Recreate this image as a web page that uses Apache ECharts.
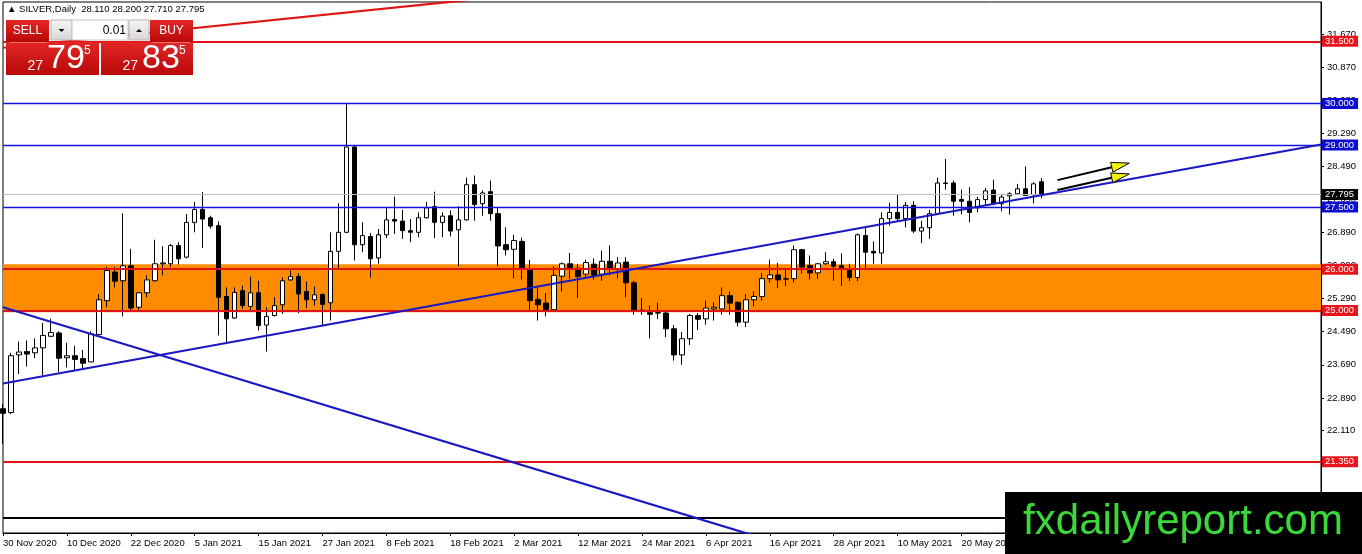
<!DOCTYPE html>
<html>
<head>
<meta charset="utf-8">
<title>SILVER,Daily</title>
<script src="https://cdn.jsdelivr.net/npm/echarts@6.0.0/dist/echarts.min.js"></script>
<style>
html, body { margin: 0; padding: 0; background: #fff; }
#chart { width: 1362px; height: 554px; }
</style>
</head>
<body>
<div id="chart"></div>
<script>
'use strict';

// trading days shown on the chart
var dates = [
    '30 Nov 2020', '1 Dec 2020', '2 Dec 2020', '3 Dec 2020', '4 Dec 2020', '7 Dec 2020', '8 Dec 2020', '9 Dec 2020',
    '10 Dec 2020', '11 Dec 2020', '14 Dec 2020', '15 Dec 2020', '16 Dec 2020', '17 Dec 2020', '18 Dec 2020', '21 Dec 2020',
    '22 Dec 2020', '23 Dec 2020', '24 Dec 2020', '28 Dec 2020', '29 Dec 2020', '30 Dec 2020', '31 Dec 2020', '4 Jan 2021',
    '5 Jan 2021', '6 Jan 2021', '7 Jan 2021', '8 Jan 2021', '11 Jan 2021', '12 Jan 2021', '13 Jan 2021', '14 Jan 2021',
    '15 Jan 2021', '18 Jan 2021', '19 Jan 2021', '20 Jan 2021', '21 Jan 2021', '22 Jan 2021', '25 Jan 2021', '26 Jan 2021',
    '27 Jan 2021', '28 Jan 2021', '29 Jan 2021', '1 Feb 2021', '2 Feb 2021', '3 Feb 2021', '4 Feb 2021', '5 Feb 2021',
    '8 Feb 2021', '9 Feb 2021', '10 Feb 2021', '11 Feb 2021', '12 Feb 2021', '15 Feb 2021', '16 Feb 2021', '17 Feb 2021',
    '18 Feb 2021', '19 Feb 2021', '22 Feb 2021', '23 Feb 2021', '24 Feb 2021', '25 Feb 2021', '26 Feb 2021', '1 Mar 2021',
    '2 Mar 2021', '3 Mar 2021', '4 Mar 2021', '5 Mar 2021', '8 Mar 2021', '9 Mar 2021', '10 Mar 2021', '11 Mar 2021',
    '12 Mar 2021', '15 Mar 2021', '16 Mar 2021', '17 Mar 2021', '18 Mar 2021', '19 Mar 2021', '22 Mar 2021', '23 Mar 2021',
    '24 Mar 2021', '25 Mar 2021', '26 Mar 2021', '29 Mar 2021', '30 Mar 2021', '31 Mar 2021', '1 Apr 2021', '5 Apr 2021',
    '6 Apr 2021', '7 Apr 2021', '8 Apr 2021', '9 Apr 2021', '12 Apr 2021', '13 Apr 2021', '14 Apr 2021', '15 Apr 2021',
    '16 Apr 2021', '19 Apr 2021', '20 Apr 2021', '21 Apr 2021', '22 Apr 2021', '23 Apr 2021', '26 Apr 2021', '27 Apr 2021',
    '28 Apr 2021', '29 Apr 2021', '30 Apr 2021', '3 May 2021', '4 May 2021', '5 May 2021', '6 May 2021', '7 May 2021',
    '10 May 2021', '11 May 2021', '12 May 2021', '13 May 2021', '14 May 2021', '17 May 2021', '18 May 2021', '19 May 2021',
    '20 May 2021', '21 May 2021', '24 May 2021', '25 May 2021', '26 May 2021', '27 May 2021', '28 May 2021', '31 May 2021',
    '1 Jun 2021', '2 Jun 2021', '3 Jun 2021'
];

// [open, close, low, high]
var ohlc = [
    [22.63, 22.52, 21.78, 22.75], [22.54, 23.91, 22.50, 23.98], [23.93, 24.00, 23.47, 24.25], [24.01, 23.95, 23.65, 24.28],
    [23.98, 24.10, 23.85, 24.33], [24.10, 24.40, 23.43, 24.70], [24.38, 24.47, 24.36, 24.80], [24.46, 23.85, 23.51, 24.50],
    [23.86, 23.91, 23.63, 24.22], [23.91, 23.82, 23.55, 24.15], [23.84, 23.73, 23.59, 24.05], [23.76, 24.44, 23.76, 24.50],
    [24.42, 25.26, 24.42, 25.40], [25.24, 25.97, 25.08, 26.06], [25.93, 25.71, 25.56, 26.05], [25.72, 26.08, 24.86, 27.35],
    [26.08, 25.06, 25.00, 26.49], [25.08, 25.43, 25.02, 25.45], [25.43, 25.74, 25.32, 25.85], [25.72, 26.13, 25.70, 26.71],
    [26.13, 26.15, 25.85, 26.55], [26.13, 26.57, 26.05, 26.61], [26.57, 26.25, 26.11, 26.65], [26.29, 27.13, 26.26, 27.33],
    [27.13, 27.44, 26.89, 27.62], [27.44, 27.21, 26.51, 27.86], [27.24, 27.04, 26.98, 27.29], [27.05, 25.32, 24.40, 27.15],
    [25.34, 24.80, 24.23, 25.56], [24.82, 25.44, 24.80, 25.56], [25.48, 25.12, 25.04, 25.60], [25.10, 25.43, 25.00, 25.82],
    [25.43, 24.64, 24.52, 25.72], [24.65, 24.86, 24.01, 25.08], [24.88, 25.12, 24.86, 25.32], [25.14, 25.72, 24.92, 25.80],
    [25.74, 25.82, 25.72, 25.97], [25.82, 25.40, 24.94, 25.90], [25.46, 25.26, 25.06, 25.70], [25.26, 25.38, 25.12, 25.58],
    [25.39, 25.15, 24.64, 25.41], [25.19, 26.43, 24.76, 26.89], [26.43, 26.89, 26.01, 27.59], [26.89, 28.95, 26.87, 29.99],
    [28.95, 26.59, 26.21, 28.97], [26.59, 26.81, 26.41, 27.13], [26.79, 26.25, 25.80, 26.87], [26.27, 26.83, 26.13, 26.97],
    [26.83, 27.19, 26.75, 27.50], [27.20, 27.16, 26.85, 27.75], [27.16, 26.93, 26.73, 27.43], [26.93, 26.89, 26.65, 27.21],
    [26.89, 27.24, 26.77, 27.37], [27.24, 27.48, 27.22, 27.62], [27.51, 27.13, 26.75, 27.87], [27.13, 27.28, 26.77, 27.37],
    [27.29, 26.92, 26.79, 27.42], [26.95, 27.19, 26.07, 27.52], [27.19, 28.04, 27.17, 28.21], [28.04, 27.56, 27.17, 28.26],
    [27.58, 27.84, 27.29, 27.90], [27.87, 27.34, 27.17, 28.14], [27.34, 26.56, 26.07, 27.50], [26.59, 26.47, 26.33, 27.01],
    [26.48, 26.69, 25.78, 26.83], [26.67, 26.01, 25.75, 26.76], [26.01, 25.24, 24.98, 26.22], [25.27, 25.14, 24.76, 25.56],
    [25.18, 25.02, 24.86, 25.42], [25.02, 25.85, 25.00, 26.07], [25.83, 26.13, 25.46, 26.16], [26.13, 26.02, 25.77, 26.39],
    [26.02, 25.82, 25.30, 26.13], [25.88, 26.16, 25.78, 26.23], [26.12, 25.85, 25.75, 26.26], [25.88, 26.19, 25.72, 26.45],
    [26.19, 26.01, 25.85, 26.57], [25.99, 26.15, 25.78, 26.29], [26.17, 25.67, 25.32, 26.29], [25.67, 25.00, 24.90, 25.72],
    [25.01, 24.99, 24.90, 25.30], [24.95, 24.91, 24.33, 25.12], [24.95, 24.94, 24.80, 25.19], [24.94, 24.56, 24.36, 25.00],
    [24.56, 23.93, 23.79, 24.65], [23.93, 24.32, 23.69, 24.48], [24.32, 24.88, 24.17, 24.92], [24.88, 24.79, 24.53, 24.94],
    [24.80, 25.06, 24.66, 25.24], [25.04, 25.08, 24.76, 25.20], [25.04, 25.36, 24.90, 25.56], [25.36, 25.18, 24.90, 25.46],
    [25.20, 24.72, 24.62, 25.22], [24.72, 25.26, 24.60, 25.40], [25.26, 25.34, 25.10, 25.46], [25.34, 25.77, 25.24, 25.91],
    [25.77, 25.86, 25.67, 26.23], [25.86, 25.74, 25.54, 26.15], [25.76, 25.77, 25.59, 26.01], [25.77, 26.47, 25.68, 26.57],
    [26.47, 26.05, 25.89, 26.49], [26.09, 25.91, 25.75, 26.33], [25.91, 26.13, 25.77, 26.15], [26.13, 26.18, 26.10, 26.41],
    [26.18, 26.07, 25.72, 26.25], [26.09, 26.01, 25.60, 26.38], [26.01, 25.80, 25.71, 26.13], [25.80, 26.83, 25.71, 26.86],
    [26.81, 26.41, 26.03, 26.99], [26.43, 26.39, 26.13, 26.67], [26.39, 27.22, 26.13, 27.37], [27.22, 27.37, 27.05, 27.60],
    [27.37, 27.22, 27.16, 27.80], [27.22, 27.54, 27.01, 27.62], [27.54, 26.92, 26.87, 27.64], [26.92, 27.00, 26.63, 27.17],
    [27.00, 27.34, 26.73, 27.43], [27.34, 28.08, 27.34, 28.21], [28.08, 28.07, 27.92, 28.66], [28.08, 27.64, 27.29, 28.14],
    [27.68, 27.64, 27.32, 27.92], [27.64, 27.37, 27.13, 27.98], [27.48, 27.68, 27.37, 27.75], [27.68, 27.89, 27.54, 27.96],
    [27.91, 27.59, 27.54, 28.16], [27.58, 27.74, 27.40, 27.82], [27.77, 27.82, 27.32, 27.86], [27.82, 27.94, 27.81, 28.06],
    [27.94, 27.78, 27.78, 28.48], [27.80, 28.06, 27.59, 28.10], [28.11, 27.795, 27.71, 28.20]
];

// price scale labels as the terminal prints them
var yTicks = [31.67, 30.87, 30.08, 29.29, 28.49, 27.69, 26.89, 26.09, 25.29, 24.49, 23.69, 22.89, 22.11, 21.33];

// horizontal levels
var redLevels = [31.5, 26.0, 25.0, 21.35];
var blueLevels = [30.0, 29.0, 27.5];
var bidPrice = 27.795;
var floorLevel = 20.0;
var orangeZone = [26.12, 24.96];

// trendlines: [bar index, price] end points
var risingTrend = [[0, 23.24], [165, 29.01]];
var fallingTrend = [[0, 25.08], [95, 19.51]];
var redTrend = [[0, 31.345], [70, 32.73]];

// arrows: [from bar, from price, to bar, to price]
var arrows = [[131.8, 28.15, 140.7, 28.56], [132.1, 27.91, 141.3, 28.30]];

// last bar quote and one-click trading prices
var lastQuote = [28.110, 28.200, 27.710, 27.795];
var sellPrice = ['27', '79', '5'];
var buyPrice = ['27', '83', '5'];
var lotSize = '0.01';

var futureBars = 35;
var slots = dates.slice();
for (var i = 0; i < futureBars; i++) {
    slots.push('');
}

var FONT = 'Liberation Sans';

//水平线
function level(value, color, width, tag) {
    return {
        yAxis: value,
        lineStyle: { color: color, width: width, type: 'solid', opacity: 1 },
        label: tag ? {
            show: true,
            position: 'end',
            distance: 1,
            formatter: function() { return value.toFixed(3); },
            color: '#fff',
            backgroundColor: tag,
            padding: [1, 4, 0, 3],
            fontSize: 9.5,
            fontFamily: FONT
        } : { show: false }
    };
}

var levelLines = [];
levelLines.push(level(bidPrice, '#c0c0c0', 1, '#000'));
blueLevels.forEach(function(v) { levelLines.push(level(v, '#1414e0', 1.3, '#0c0cd0')); });
redLevels.forEach(function(v) { levelLines.push(level(v, '#e01414', 2, '#e8141c')); });
levelLines.push(level(floorLevel, '#000', 2, null));

function trend(points, color) {
    return {
        type: 'line',
        data: points,
        showSymbol: false,
        silent: true,
        z: 5,
        lineStyle: { color: color, width: 2.2 }
    };
}

//箭头
function renderArrow(params, api) {
    var s = api.coord([api.value(0), api.value(1)]);
    var e = api.coord([api.value(2), api.value(3)]);
    var dx = e[0] - s[0];
    var dy = e[1] - s[1];
    var len = Math.sqrt(dx * dx + dy * dy);
    var ux = dx / len;
    var uy = dy / len;
    var headLen = 18;
    var half = 5;
    var bx = e[0] - ux * headLen;
    var by = e[1] - uy * headLen;
    return {
        type: 'group',
        children: [{
            type: 'line',
            shape: { x1: s[0], y1: s[1], x2: bx, y2: by },
            style: { stroke: '#000', lineWidth: 2 }
        }, {
            type: 'polygon',
            shape: { points: [[e[0], e[1]], [bx - uy * half, by + ux * half], [bx + uy * half, by - ux * half]] },
            style: { fill: '#f2f200', stroke: '#000', lineWidth: 1 }
        }]
    };
}

function redFill() {
    return new echarts.graphic.LinearGradient(0, 0, 0, 1, [
        { offset: 0, color: '#e42626' },
        { offset: 1, color: '#b80808' }
    ]);
}

function greyFill() {
    return new echarts.graphic.LinearGradient(0, 0, 0, 1, [
        { offset: 0, color: '#f6f6f6' },
        { offset: 1, color: '#d6d6d6' }
    ]);
}

function priceTexts(p, x) {
    return [
        { type: 'text', x: x, y: 66, z: 101, style: { text: p[0], fill: '#fff', font: '14px ' + FONT, textAlign: 'right', verticalAlign: 'middle' } },
        { type: 'text', x: x + 4, y: 59, z: 101, style: { text: p[1], fill: '#fff', font: '34px ' + FONT, textAlign: 'left', verticalAlign: 'middle' } },
        { type: 'text', x: x + 41, y: 51, z: 101, style: { text: p[2], fill: '#fff', font: '12px ' + FONT, textAlign: 'left', verticalAlign: 'middle' } }
    ];
}

var panel = [
    { type: 'text', x: 7, y: 9, z: 100, style: { text: '\u25B2 SILVER,Daily  ' + lastQuote.map(function(v) { return v.toFixed(3); }).join(' '), fill: '#000', font: '9.5px ' + FONT, verticalAlign: 'middle' } },
    { type: 'rect', z: 100, shape: { x: 6, y: 20, width: 43, height: 22 }, style: { fill: redFill() } },
    { type: 'text', x: 27.5, y: 31, z: 101, style: { text: 'SELL', fill: '#fff', font: '12px ' + FONT, textAlign: 'center', verticalAlign: 'middle' } },
    { type: 'rect', z: 100, shape: { x: 51, y: 20, width: 21, height: 20 }, style: { fill: greyFill(), stroke: '#b4b4b4', lineWidth: 1 } },
    { type: 'polygon', z: 101, shape: { points: [[58.5, 29], [64.5, 29], [61.5, 32]] }, style: { fill: '#000' } },
    { type: 'rect', z: 100, shape: { x: 72, y: 20, width: 56, height: 20 }, style: { fill: '#fff', stroke: '#c4c4c4', lineWidth: 1 } },
    { type: 'text', x: 126, y: 30.5, z: 101, style: { text: lotSize, fill: '#000', font: '12px ' + FONT, textAlign: 'right', verticalAlign: 'middle' } },
    { type: 'rect', z: 100, shape: { x: 129, y: 20, width: 20, height: 20 }, style: { fill: greyFill(), stroke: '#b4b4b4', lineWidth: 1 } },
    { type: 'polygon', z: 101, shape: { points: [[136, 32], [142, 32], [139, 29]] }, style: { fill: '#000' } },
    { type: 'rect', z: 100, shape: { x: 150, y: 20, width: 43, height: 22 }, style: { fill: redFill() } },
    { type: 'text', x: 171.5, y: 31, z: 101, style: { text: 'BUY', fill: '#fff', font: '12px ' + FONT, textAlign: 'center', verticalAlign: 'middle' } },
    { type: 'rect', z: 100, shape: { x: 6, y: 42, width: 93, height: 33 }, style: { fill: redFill() } },
    { type: 'rect', z: 100, shape: { x: 101, y: 42, width: 92, height: 33 }, style: { fill: redFill() } },
    { type: 'line', z: 101, shape: { x1: 10, y1: 42.5, x2: 47, y2: 42.5 }, style: { stroke: '#f07070', lineWidth: 1 } },
    { type: 'line', z: 101, shape: { x1: 152, y1: 42.5, x2: 190, y2: 42.5 }, style: { stroke: '#f07070', lineWidth: 1 } }
].concat(priceTexts(sellPrice, 43), priceTexts(buyPrice, 138), [
    { type: 'rect', z: 100, shape: { x: 1005, y: 492, width: 357, height: 62 }, style: { fill: '#000' } },
    { type: 'text', x: 1183, y: 522, z: 101, style: { text: 'fxdailyreport.com', fill: '#3ad83a', font: '42px ' + FONT, textAlign: 'center', verticalAlign: 'middle' } }
]);

var chart = echarts.init(document.getElementById('chart'));
chart.setOption({
    animation: false,
    backgroundColor: '#fff',
    grid: {
        left: 3, top: 2, right: 41, bottom: 21,
        show: true, borderColor: '#000', borderWidth: 1, backgroundColor: 'transparent'
    },
    xAxis: {
        type: 'category',
        data: slots,
        boundaryGap: false,
        axisLine: { lineStyle: { color: '#000', width: 1 } },
        axisTick: { interval: 7, length: 3, lineStyle: { color: '#000' } },
        axisLabel: { interval: 7, align: 'left', margin: 5, color: '#000', fontSize: 9.5, fontFamily: FONT },
        splitLine: { show: false }
    },
    yAxis: {
        type: 'value',
        position: 'right',
        min: 19.63,
        max: 32.45,
        splitLine: { show: false },
        axisLine: { show: true, lineStyle: { color: '#000' } },
        axisTick: { show: true, customValues: yTicks, length: 3, lineStyle: { color: '#000' } },
        axisLabel: {
            customValues: yTicks,
            formatter: function(v) { return v.toFixed(3); },
            color: '#000', fontSize: 9.5, fontFamily: FONT, margin: 6
        }
    },
    series: [{
        type: 'line',
        data: [],
        z: 1,
        silent: true,
        markArea: {
            silent: true,
            itemStyle: { color: '#ff8c00', opacity: 1 },
            data: [[{ yAxis: orangeZone[0] }, { yAxis: orangeZone[1] }]]
        }
    }, {
        type: 'candlestick',
        name: 'SILVER',
        data: ohlc,
        barWidth: 5,
        z: 3,
        itemStyle: {
            color: '#fff', color0: '#000',
            borderColor: '#000', borderColor0: '#000', borderWidth: 1
        }
    }, {
        type: 'line',
        data: [],
        z: 4,
        silent: true,
        markLine: { silent: true, symbol: 'none', animation: false, data: levelLines }
    },
        trend(risingTrend, '#1818c4'),
        trend(fallingTrend, '#1818c4'),
        trend(redTrend, '#e01414'),
    {
        type: 'custom',
        data: arrows,
        encode: { x: [0, 2], y: [1, 3] },
        z: 6,
        silent: true,
        renderItem: renderArrow
    }],
    graphic: { elements: panel }
});
</script>
</body>
</html>
